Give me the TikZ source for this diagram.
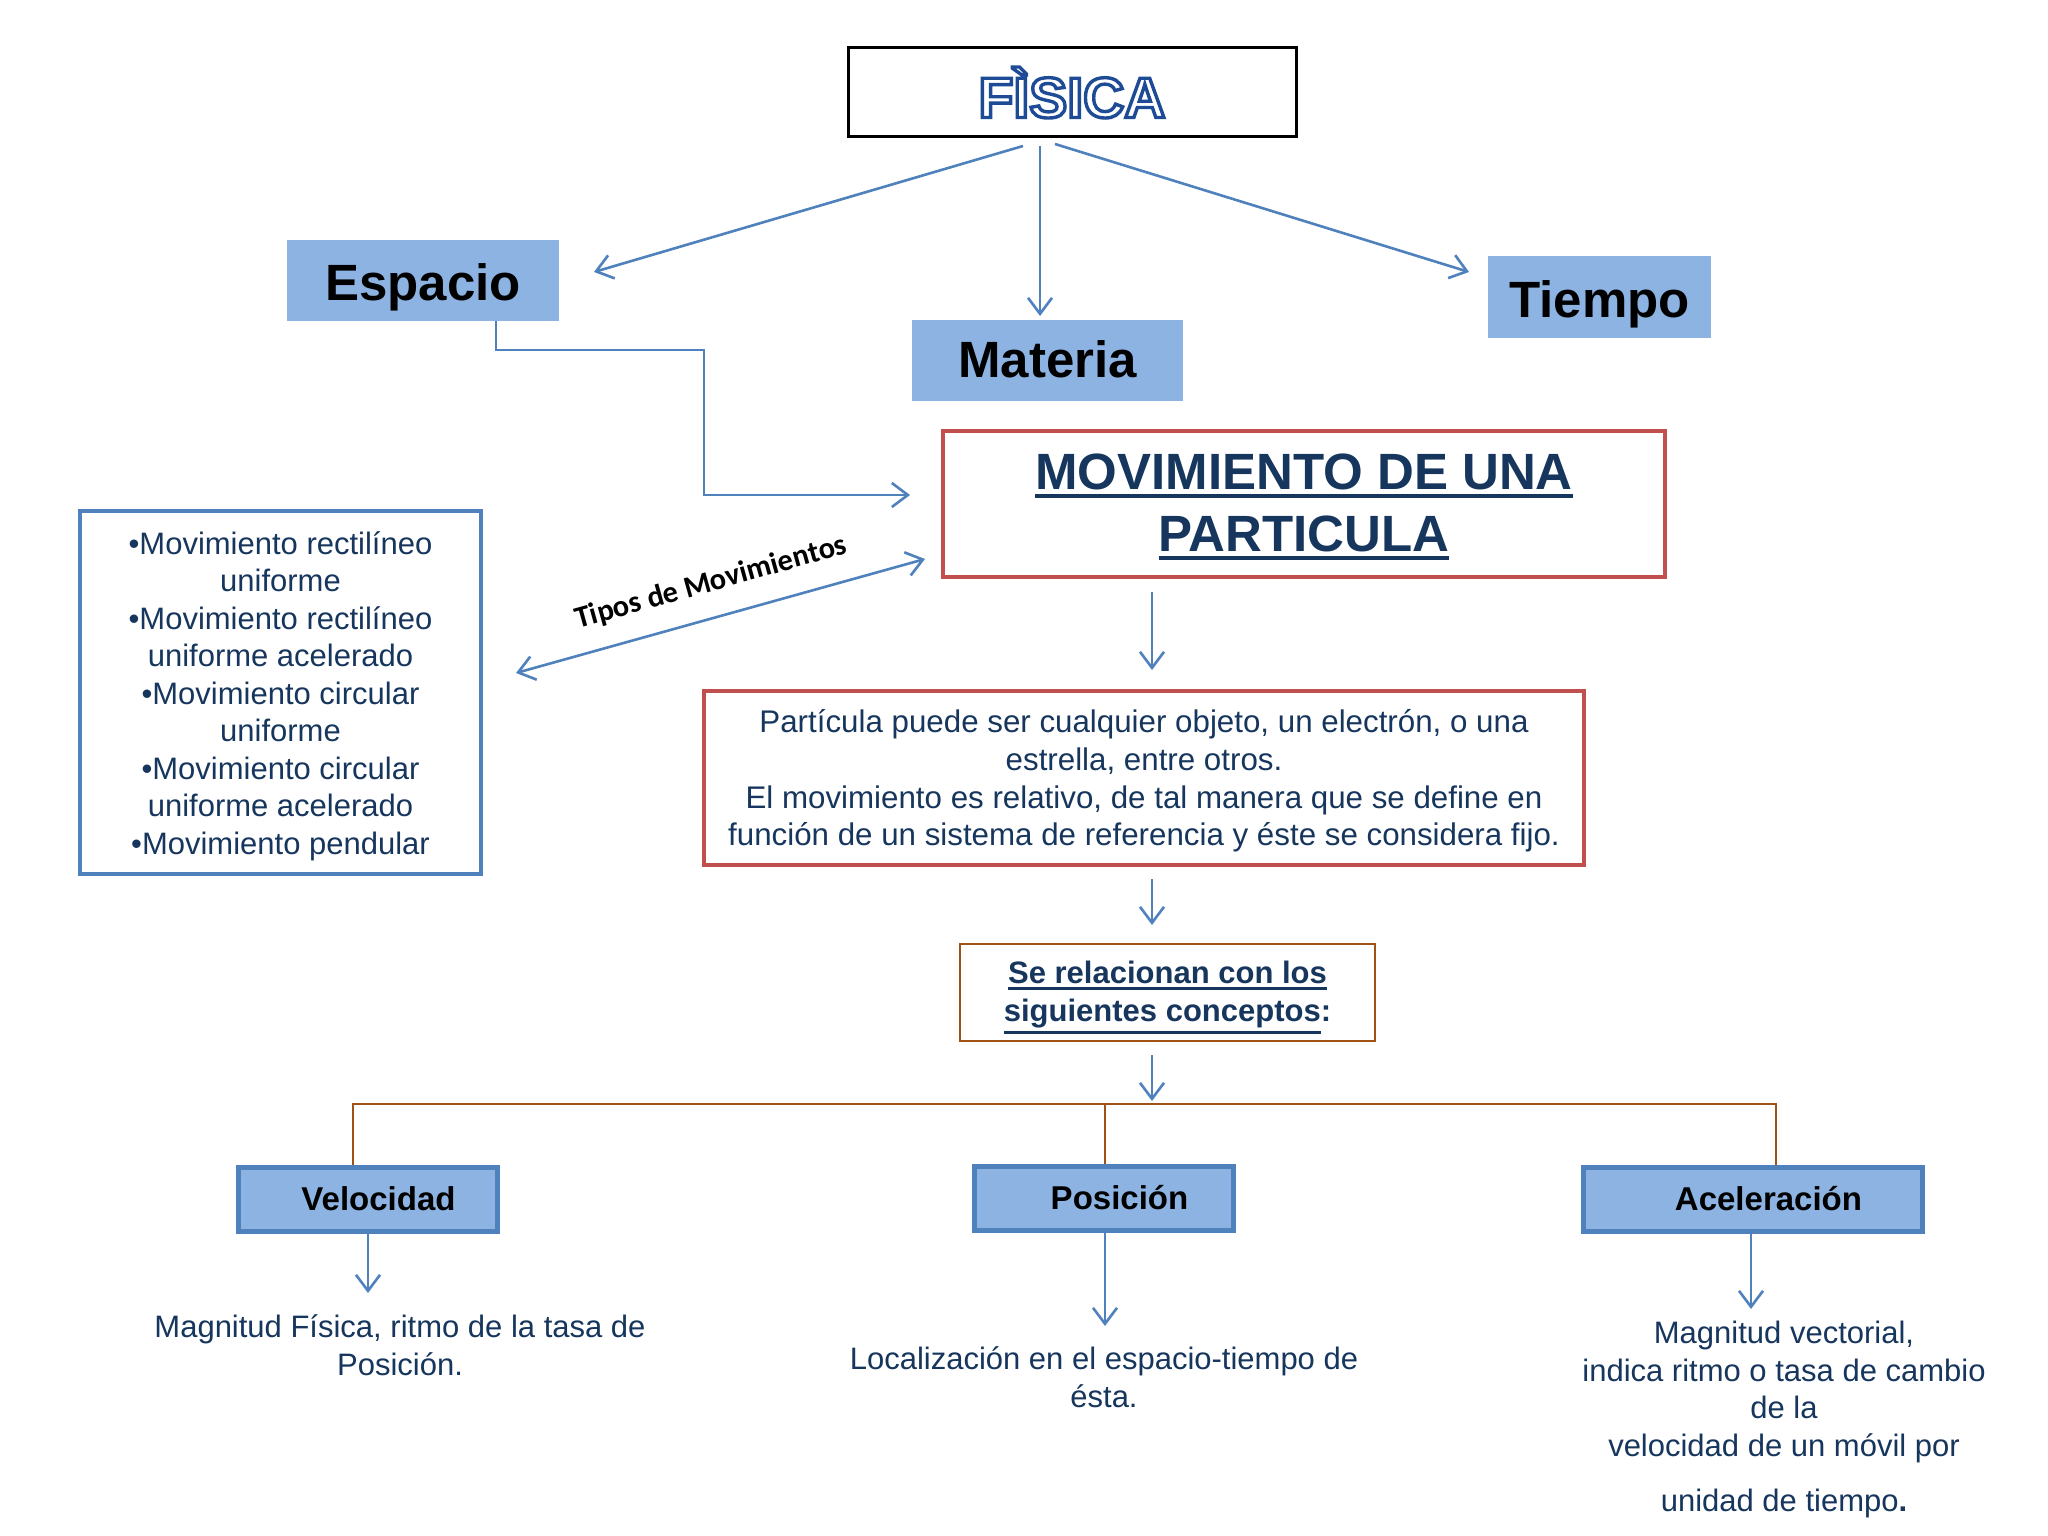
\documentclass[tikz,border=0pt]{standalone}
\usepackage{fontspec}
\setmainfont{Liberation Sans}
\newfontfamily\calib{Carlito}
\usetikzlibrary{arrows.meta}
\definecolor{arrblue}{RGB}{79,129,189}
\definecolor{boxfill}{RGB}{141,179,226}
\definecolor{navy}{RGB}{23,54,93}
\definecolor{redb}{RGB}{192,80,77}
\definecolor{brownb}{RGB}{160,82,20}
\definecolor{fisblue}{RGB}{30,75,150}
% underline: #1 text, #2 depth below baseline, #3 thickness
\newcommand\myul[3]{\leavevmode\setbox0\hbox{#1}\rlap{\rule[-#2]{\wd0}{#3}}\box0}
\newcommand\outlinetext[1]{{\color{white}\special{pdf:literal direct 2 Tr 3.4 w 0.118 0.294 0.588 RG}#1\special{pdf:literal direct 0 Tr}}}
\tikzset{
  conn/.style={draw=arrblue, line width=2.6pt, -{Straight Barb[length=16pt,width=24pt]}},
  dconn/.style={draw=arrblue, line width=2.6pt, {Straight Barb[length=16pt,width=24pt]}-{Straight Barb[length=16pt,width=24pt]}},
  tree/.style={draw=brownb, line width=2.6pt},
  topbox/.style={fill=boxfill, inner sep=0pt, text=black, text depth=0pt, font=\fontsize{51}{60}\bfseries\selectfont},
  conbox/.style={fill=boxfill, draw=arrblue, line width=5pt, inner sep=0pt, minimum height=64pt, text=black, font=\fontsize{33}{40}\bfseries\selectfont},
  bodytext/.style={text=navy, align=center, inner sep=0pt, font=\fontsize{31}{37.5}\selectfont},
}
\begin{document}
\begin{tikzpicture}[x=1pt,y=-1pt]
\useasboundingbox[fill=white] (0,0) rectangle (2048,1536);

% title
\node[draw=black, line width=3pt, minimum width=448pt, minimum height=89pt, inner sep=0pt] (fis) at (1072,92.5)
  {\fontsize{57}{66}\bfseries\selectfont\outlinetext{FÌSICA}};

\node[topbox, text height=40pt, minimum width=272pt, minimum height=81pt] (esp) at (423,280.5) {Espacio};
\node[topbox, text height=33pt, minimum width=271pt, minimum height=81pt] (mat) at (1047.5,360.5) {Materia};
\node[topbox, text height=40pt, minimum width=223pt, minimum height=82pt] (tie) at (1599.5,297) {Tiempo};

% framed boxes (text set in separate nodes on top)
\node[draw=redb, line width=4pt, minimum width=722pt, minimum height=146pt, inner sep=0pt] (mov) at (1304,504) {};
\node[align=center, inner sep=0pt, text=navy, font=\fontsize{51}{62}\bfseries\selectfont] (movt) at (1304,507)
  {\myul{MOVIMIENTO DE UNA}{8pt}{3.8pt}\\\myul{PARTICULA}{8pt}{3.8pt}};

\node[draw=arrblue, line width=4.5pt, minimum width=401pt, minimum height=363pt, inner sep=0pt] (tip) at (280.5,692.5) {};
\node[bodytext] (tipt) at (280.5,696)
  {\textbullet Movimiento rectilíneo\\ uniforme\\ \textbullet Movimiento rectilíneo\\ uniforme acelerado\\
   \textbullet Movimiento circular\\ uniforme\\ \textbullet Movimiento circular\\ uniforme acelerado\\
   \textbullet Movimiento pendular};

\node[draw=redb, line width=4pt, minimum width=880pt, minimum height=174pt, inner sep=0pt] (par) at (1144,778) {};
\node[bodytext, font=\fontsize{31.3}{37.8}\selectfont] (part) at (1144,781)
  {Partícula puede ser cualquier objeto, un electrón, o una\\ estrella, entre otros.\\
   El movimiento es relativo, de tal manera que se define en\\
   función de un sistema de referencia y éste se considera fijo.};

\node[draw=brownb, line width=2.6pt, minimum width=415pt, minimum height=97pt, inner sep=0pt] (rel) at (1167.5,992.5) {};
\node[bodytext, font=\fontsize{31}{38}\bfseries\selectfont] (relt) at (1167.5,997.5)
  {\myul{Se relacionan con los}{6.5pt}{3pt}\\\myul{siguientes conceptos}{12pt}{3pt}:};

\node[conbox, minimum width=259pt] (vel) at (367.5,1199) {\hspace{22pt}Velocidad};
\node[conbox, minimum width=259pt] (pos) at (1103.5,1198) {\hspace{32pt}Posición};
\node[conbox, minimum width=339pt] (ace) at (1752.5,1199) {\hspace{32pt}Aceleración};

\node[bodytext] (tvel) at (400,1345) {Magnitud Física, ritmo de la tasa de\\ Posición.};
\node[bodytext] (tpos) at (1104,1377) {Localización en el espacio-tiempo de\\ ésta.};
\node[bodytext, anchor=north] (tace) at (1784,1321) {Magnitud vectorial,\\ indica ritmo o tasa de cambio\\ de la\\
   velocidad de un móvil por\\[18pt] unidad de tiempo{\bfseries .}};

% coordinates for connector ends
\coordinate (f1) at (1023,146); \coordinate (f1e) at (594,272);
\coordinate (f2) at (1040,146); \coordinate (f2e) at (1040,316);
\coordinate (f3) at (1055,144); \coordinate (f3e) at (1469,272);
\coordinate (e1) at (496,321); \coordinate (e2) at (496,350); \coordinate (e3) at (704,350);
\coordinate (e4) at (704,495); \coordinate (e5) at (910,495);
\coordinate (t1) at (516,673); \coordinate (t2) at (925,559);
\coordinate (m1) at (1152,592); \coordinate (m2) at (1152,670);
\coordinate (p1) at (1152,879); \coordinate (p2) at (1152,925);
\coordinate (r1) at (1152,1055); \coordinate (r2) at (1152,1101);
\coordinate (b1) at (353,1104); \coordinate (b2) at (1105,1104); \coordinate (b3) at (1776,1104);
\coordinate (v1) at (368,1234); \coordinate (v2) at (368,1293);
\coordinate (q1) at (1105,1233); \coordinate (q2) at (1105,1326);
\coordinate (a1) at (1751,1234); \coordinate (a2) at (1751,1309);

\draw[conn] (f1) -- (f1e);
\draw[conn] (f2) -- (f2e);
\draw[conn] (f3) -- (f3e);
\draw[conn] (e1) -- (e2) -- (e3) -- (e4) -- (e5);
\draw[dconn] (t1) -- node[pos=0.5, sloped, above=20pt, inner sep=0pt, text=black,
   font=\calib\bfseries\fontsize{30.5}{34}\selectfont] (tlab) {Tipos de Movimientos} (t2);
\draw[conn] (m1) -- (m2);
\draw[conn] (p1) -- (p2);
\draw[conn] (r1) -- (r2);

\draw[tree] (vel.north -| b1) -- (b1) -- (b3) -- (ace.north -| b3);
\draw[tree] (b2) -- (pos.north -| b2);

\draw[conn] (v1) -- (v2);
\draw[conn] (q1) -- (q2);
\draw[conn] (a1) -- (a2);
\end{tikzpicture}
\end{document}
